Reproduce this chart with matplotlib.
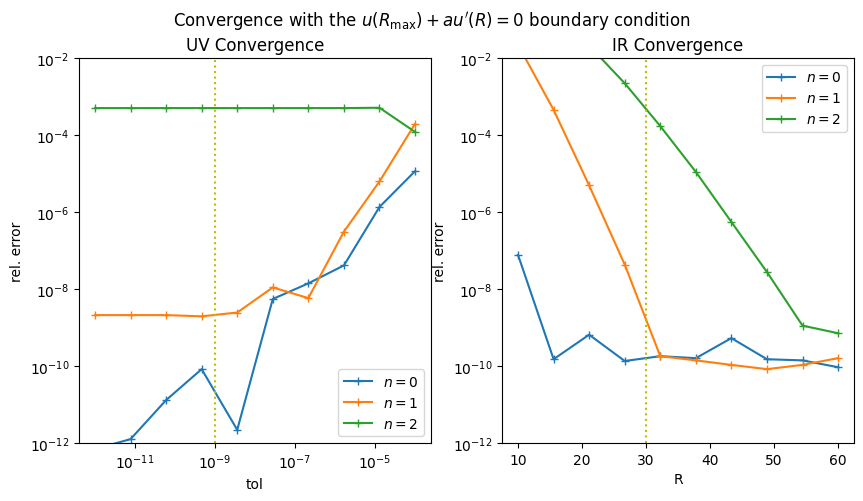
import numpy as np
import matplotlib.pyplot as plt

# UV convergence: relative error vs solver tolerance
tol = [1e-12, 7.74e-12, 5.99e-11, 4.64e-10, 3.59e-9, 2.78e-8, 2.15e-7, 1.67e-6, 1.29e-5, 1e-4]
uv_err = {
    0: [7e-13, 1.26e-12, 1.3e-11, 8.3e-11, 2.2e-12, 5.5e-9, 1.4e-8, 4.1e-8, 1.35e-6, 1.15e-5],
    1: [2.1e-9, 2.1e-9, 2.1e-9, 1.95e-9, 2.45e-9, 1.1e-8, 5.8e-9, 3.1e-7, 6.2e-6, 1.95e-4],
    2: [5e-4, 5e-4, 5e-4, 5e-4, 5e-4, 5e-4, 5e-4, 5e-4, 5.1e-4, 1.2e-4],
}
tol_used = 1e-9

# IR convergence: relative error vs cutoff radius
R = [10, 15.56, 21.11, 26.67, 32.22, 37.78, 43.33, 48.89, 54.44, 60]
ir_err = {
    0: [7.7e-8, 1.5e-10, 6.5e-10, 1.35e-10, 1.8e-10, 1.6e-10, 5.3e-10, 1.5e-10, 1.4e-10, 9.3e-11],
    1: [2.2e-2, 4.5e-4, 4.9e-6, 4.3e-8, 1.8e-10, 1.4e-10, 1.07e-10, 8.3e-11, 1.07e-10, 1.6e-10],
    2: [1.0, 1.6e-1, 2.1e-2, 2.2e-3, 1.7e-4, 1.1e-5, 5.5e-7, 2.75e-8, 1.12e-9, 7.1e-10],
}
R_used = 30

fig = plt.figure(figsize=(8.63, 5.02), dpi=100)
ax1 = fig.add_axes([0.0915, 0.1155, 0.408, 0.767])
ax2 = fig.add_axes([0.5817, 0.1155, 0.408, 0.767])

for n in uv_err:
    ax1.plot(tol, uv_err[n], '+-', label='$n={}$'.format(n))
ax1.axvline(tol_used, color='y', linestyle=':')
ax1.set_xscale('log')
ax1.set_yscale('log')
ax1.set_ylim(1e-12, 1e-2)
ax1.set_xlabel('tol')
ax1.set_ylabel('rel. error')
ax1.set_title('UV Convergence')
ax1.legend(loc='lower right')

for n in ir_err:
    ax2.plot(R, ir_err[n], '+-', label='$n={}$'.format(n))
ax2.axvline(R_used, color='y', linestyle=':')
ax2.set_yscale('log')
ax2.set_ylim(1e-12, 1e-2)
ax2.set_xlabel('R')
ax2.set_ylabel('rel. error')
ax2.set_title('IR Convergence')
ax2.legend(loc='upper right')

fig.suptitle("Convergence with the $u(R_{\\max}) + au'(R) = 0$ boundary condition", y=0.98)

fig.savefig('out.png', dpi=100)
